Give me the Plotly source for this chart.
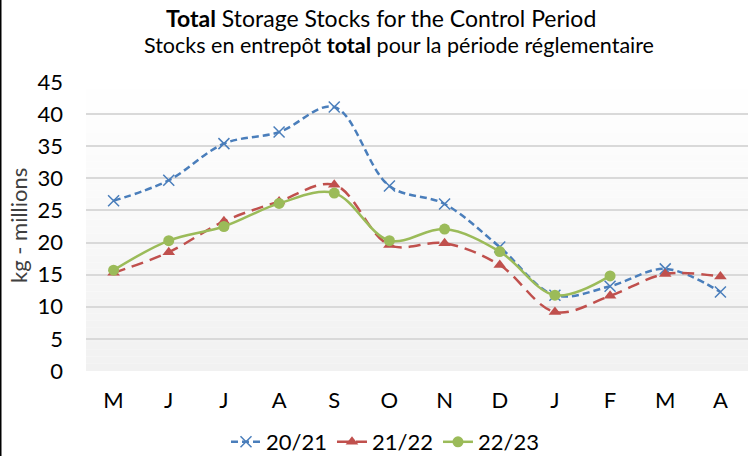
import plotly.graph_objects as go

months = ["M", "J", "J", "A", "S", "O", "N", "D", "J", "F", "M", "A"]
series_names = ["20/21", "21/22", "22/23"]
s2021 = [26.5, 29.7, 35.4, 37.2, 41.1, 28.8, 26.0, 19.3, 11.8, 13.2, 15.9, 12.3]
s2122 = [15.3, 18.5, 23.3, 26.4, 29.0, 19.6, 19.9, 16.5, 9.2, 11.7, 15.1, 14.7]
s2223 = [15.7, 20.3, 22.5, 26.1, 27.7, 20.3, 22.1, 18.6, 11.8, 14.8, None, None]
y_ticks = [0, 5, 10, 15, 20, 25, 30, 35, 40, 45]
title_line1 = "<b>Total</b> Storage Stocks for the Control Period"
title_line2 = "Stocks en entrepôt <b>total</b> pour la période réglementaire"
y_title = "kg - millions"

W, H = 748, 456
L, R, T, B = 86, 0, 82, 85
pw, ph = W - L - R, H - T - B

FONT = "Lato, Calibri, 'Noto Sans', sans-serif"
FS = 22
x = list(range(len(months)))

fig = go.Figure()
fig.add_trace(go.Scatter(
    x=x, y=s2021, name=series_names[0], mode="lines+markers",
    line=dict(color="#4a7ebb", width=2.5, dash="7px,4px", shape="spline", smoothing=1),
    marker=dict(symbol="x-thin", size=11, line=dict(color="#4a7ebb", width=1.5), color="#4a7ebb"),
))
fig.add_trace(go.Scatter(
    x=x, y=s2122, name=series_names[1], mode="lines+markers",
    line=dict(color="#c0504d", width=2.5, dash="12px,7px", shape="spline", smoothing=1),
    marker=dict(symbol="triangle-up", size=11, color="#c0504d"),
))
fig.add_trace(go.Scatter(
    x=x, y=s2223, name=series_names[2], mode="lines+markers",
    line=dict(color="#9bbb59", width=2.5, shape="spline", smoothing=1),
    marker=dict(symbol="circle", size=11, color="#9bbb59"),
))

# gradient background bands
shapes = []
n = 40
for i in range(n):
    t = (i + 0.5) / n
    v = int(round(255 - (255 - 241) * t))
    shapes.append(dict(type="rect", xref="paper", yref="paper",
                       x0=0, x1=1, y0=1 - (i + 1) / n, y1=1 - i / n,
                       fillcolor=f"rgb({v},{v},{v})", line=dict(width=0), layer="below"))
# chart border on the left edge
shapes.append(dict(type="line", xref="paper", yref="paper",
                   x0=-L / pw + 0.75 / pw, x1=-L / pw + 0.75 / pw,
                   y0=-B / ph, y1=(H - B) / ph,
                   line=dict(color="#000000", width=1.5)))

def py(pix):
    return (H - B - pix) / ph

def px(pix):
    return (pix - L) / pw

fig.update_layout(
    width=W, height=H,
    margin=dict(l=L, r=R, t=T, b=B, autoexpand=False),
    paper_bgcolor="white", plot_bgcolor="rgba(0,0,0,0)",
    font=dict(family=FONT, color="#000000", size=FS),
    xaxis=dict(
        tickmode="array", tickvals=x, ticktext=months,
        range=[-0.5, len(months) - 0.5], automargin=False,
        showgrid=False, zeroline=False, showline=False,
        ticks="", ticklabelstandoff=14,
        tickfont=dict(size=FS, family=FONT),
    ),
    yaxis=dict(
        range=[0, 45], tickvals=y_ticks, automargin=False,
        showgrid=True, gridcolor="#d9d9d9", gridwidth=1.5,
        zeroline=False, showline=False,
        ticks="", ticklabelstandoff=22,
        tickfont=dict(size=FS, family=FONT),
    ),
    legend=dict(
        orientation="h", x=px(385), xanchor="center",
        y=py(442), yanchor="middle",
        font=dict(size=FS, family=FONT), bgcolor="rgba(0,0,0,0)",
    ),
    shapes=shapes,
    annotations=[
        dict(text=title_line1, xref="paper", yref="paper", x=px(381), y=py(18),
             xanchor="center", yanchor="middle", showarrow=False,
             font=dict(size=23, family=FONT, color="#000000")),
        dict(text=title_line2, xref="paper", yref="paper", x=px(399), y=py(45),
             xanchor="center", yanchor="middle", showarrow=False,
             font=dict(size=21.5, family=FONT, color="#000000")),
        dict(text=y_title, textangle=-90, xref="paper", yref="paper",
             x=px(18), y=py(226), xanchor="center", yanchor="middle",
             showarrow=False, font=dict(size=FS, family=FONT, color="#404040")),
    ],
)

fig.write_html("out.html", config={"displayModeBar": False},
               post_script="document.body.style.margin='0';document.body.style.overflow='hidden';")
